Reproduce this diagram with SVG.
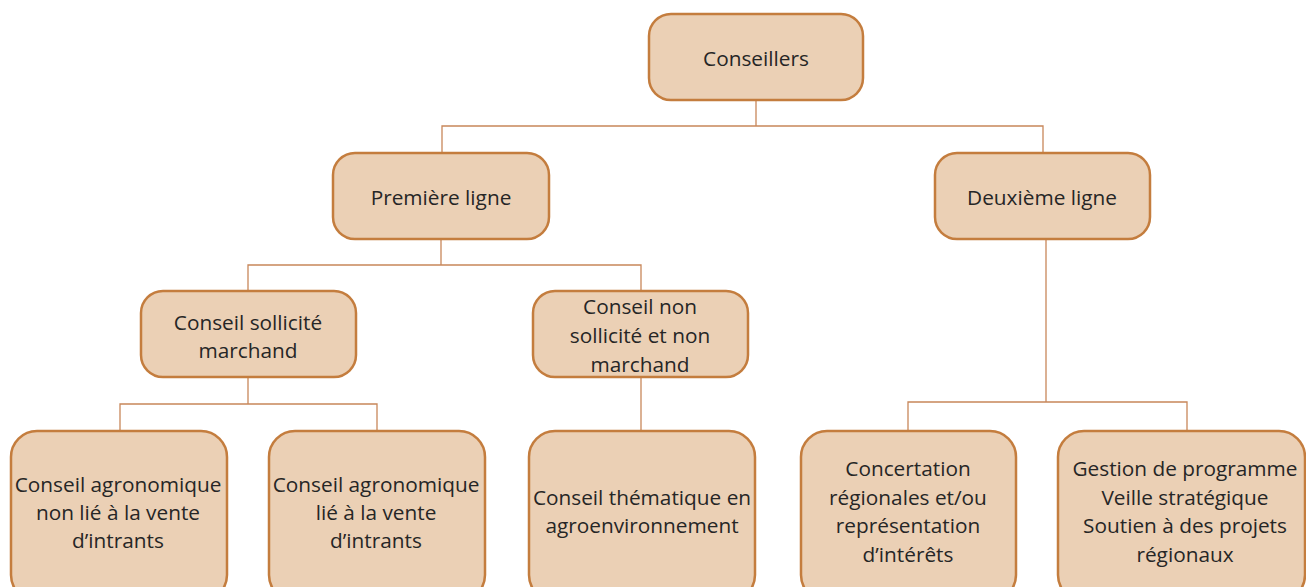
<svg xmlns="http://www.w3.org/2000/svg" width="1306" height="587" viewBox="0 0 1306 587">
<style>
.n{fill:#ebd0b5;stroke:#c47d3e;stroke-width:2.5}
.t{font-family:"Open Sans","Noto Sans",sans-serif;font-size:20.8px;fill:#262626;text-anchor:middle;dominant-baseline:central}
.c{fill:none;stroke:#c8875a;stroke-width:1.3}
</style>
<rect width="1306" height="587" fill="#fff"/>
<g id="connectors">
<path class="c" d="M756 100V126M442 153V126H1043V153"/>
<path class="c" d="M441 239V265M248 291V265H641V291"/>
<path class="c" d="M248 377V404M120 431V404H377V431"/>
<path class="c" d="M641 377V431"/>
<path class="c" d="M1046 239V402M908 431V402H1187V431"/>
</g>
<g id="conseillers"><rect class="n" x="649" y="14" width="214" height="86" rx="22"/><text class="t" x="756" y="58">Conseillers</text></g>
<g id="premiere"><rect class="n" x="333" y="153" width="216" height="86" rx="22"/><text class="t" x="441" y="197">Première ligne</text></g>
<g id="deuxieme"><rect class="n" x="935" y="153" width="215" height="86" rx="22"/><text class="t" x="1042" y="197">Deuxième ligne</text></g>
<g id="sollicite"><rect class="n" x="141" y="291" width="215" height="86" rx="22"/><text class="t" x="248" y="322">Conseil sollicité</text><text class="t" x="248" y="350">marchand</text></g>
<g id="nonsollicite"><rect class="n" x="533" y="291" width="215" height="86" rx="22"/><text class="t" x="640" y="306">Conseil non</text><text class="t" x="640" y="335">sollicité et non</text><text class="t" x="640" y="364">marchand</text></g>
<g id="agro-non-lie"><rect class="n" x="11" y="431" width="216" height="170" rx="26"/><text class="t" x="118" y="484">Conseil agronomique</text><text class="t" x="118" y="512">non lié à la vente</text><text class="t" x="118" y="540">d’intrants</text></g>
<g id="agro-lie"><rect class="n" x="269" y="431" width="216" height="170" rx="26"/><text class="t" x="376" y="484">Conseil agronomique</text><text class="t" x="376" y="512">lié à la vente</text><text class="t" x="376" y="540">d’intrants</text></g>
<g id="thematique"><rect class="n" x="529" y="431" width="226" height="170" rx="26"/><text class="t" x="642" y="497">Conseil thématique en</text><text class="t" x="642" y="525">agroenvironnement</text></g>
<g id="concertation"><rect class="n" x="801" y="431" width="215" height="170" rx="26"/><text class="t" x="908" y="468">Concertation</text><text class="t" x="908" y="497">régionales et/ou</text><text class="t" x="908" y="525">représentation</text><text class="t" x="908" y="554">d’intérêts</text></g>
<g id="gestion"><rect class="n" x="1058" y="431" width="247" height="170" rx="26"/><text class="t" x="1185" y="468">Gestion de programme</text><text class="t" x="1185" y="497">Veille stratégique</text><text class="t" x="1185" y="525">Soutien à des projets</text><text class="t" x="1185" y="554">régionaux</text></g>
</svg>
